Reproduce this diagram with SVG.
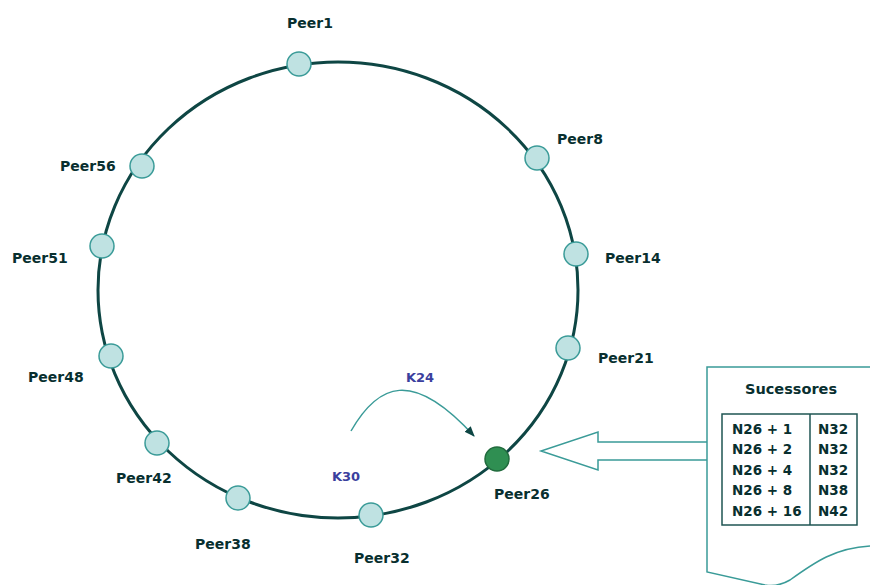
<svg xmlns="http://www.w3.org/2000/svg" width="870" height="585" viewBox="0 0 870 585">
  <style>
    .lbl { font-family: "DejaVu Sans", Verdana, sans-serif; font-weight: bold; font-size: 14px; fill: #082f2f; }
    .key { font-family: "DejaVu Sans", Verdana, sans-serif; font-weight: bold; font-size: 13px; fill: #3b3f9e; }
    .cell { font-family: "DejaVu Sans", Verdana, sans-serif; font-weight: bold; font-size: 13.5px; fill: #082f2f; }
    .peer { fill: #bfe2e2; stroke: #3a9b98; stroke-width: 1.5; }
    .peer.active { fill: #2f8f52; stroke: #216b3d; }
    .ring { fill: none; stroke: #0e4644; stroke-width: 3; }
    .thin { fill: none; stroke: #3a9b98; stroke-width: 1.5; }
    .grid { fill: none; stroke: #1f5553; stroke-width: 1.5; }
  </style>
  <defs>
    <marker id="head" viewBox="0 0 10 10" refX="9" refY="5" markerWidth="7" markerHeight="7" orient="auto">
      <path d="M0,1 L10,5 L0,9 z" fill="#0e4644"/>
    </marker>
  </defs>
  <rect width="870" height="585" fill="#ffffff"/>

  <!-- identifier ring -->
  <ellipse class="ring" cx="338" cy="290" rx="240" ry="228"/>

  <g id="connectors">
    <path d="M351,431 C378,384 412,368 474,436" class="thin" stroke="#2f8f8c" marker-end="url(#head)"/>
    <path d="M707,442 H598 V432 L541,451 L598,470 V460 H707" class="thin"/>
  </g>

  <g id="peer1"><circle class="peer" cx="299" cy="64" r="12"/><text class="lbl" x="287" y="28">Peer1</text></g>
  <g id="peer8"><circle class="peer" cx="537" cy="158" r="12"/><text class="lbl" x="557" y="144">Peer8</text></g>
  <g id="peer14"><circle class="peer" cx="576" cy="254" r="12"/><text class="lbl" x="605" y="263">Peer14</text></g>
  <g id="peer21"><circle class="peer" cx="568" cy="348" r="12"/><text class="lbl" x="598" y="363">Peer21</text></g>
  <g id="peer26"><circle class="peer active" cx="497" cy="459" r="12"/><text class="lbl" x="494" y="499">Peer26</text></g>
  <g id="peer32"><circle class="peer" cx="371" cy="515" r="12"/><text class="lbl" x="354" y="563">Peer32</text></g>
  <g id="peer38"><circle class="peer" cx="238" cy="498" r="12"/><text class="lbl" x="195" y="549">Peer38</text></g>
  <g id="peer42"><circle class="peer" cx="157" cy="443" r="12"/><text class="lbl" x="116" y="483">Peer42</text></g>
  <g id="peer48"><circle class="peer" cx="111" cy="356" r="12"/><text class="lbl" x="28" y="382">Peer48</text></g>
  <g id="peer51"><circle class="peer" cx="102" cy="246" r="12"/><text class="lbl" x="12" y="263">Peer51</text></g>
  <g id="peer56"><circle class="peer" cx="142" cy="166" r="12"/><text class="lbl" x="60" y="171">Peer56</text></g>

  <g id="keys">
    <text class="key" x="406" y="382">K24</text>
    <text class="key" x="332" y="481">K30</text>
  </g>

  <!-- finger table of Peer26 -->
  <g id="finger-table">
    <path class="thin" d="M870,367 H707 V572 L765,585 C775,587 783,584 790,580 C815,562 835,548 870,546"/>
    <text class="lbl" x="745" y="394" style="font-size:14.5px">Sucessores</text>
    <rect class="grid" x="722" y="414" width="135" height="111"/>
    <line class="grid" x1="810" y1="414" x2="810" y2="525"/>
    <text class="cell" x="732" y="434">N26 +  1</text>
    <text class="cell" x="732" y="454">N26 +  2</text>
    <text class="cell" x="732" y="475">N26 +  4</text>
    <text class="cell" x="732" y="495">N26 +  8</text>
    <text class="cell" x="732" y="516">N26 + 16</text>
    <text class="cell" x="818" y="434">N32</text>
    <text class="cell" x="818" y="454">N32</text>
    <text class="cell" x="818" y="475">N32</text>
    <text class="cell" x="818" y="495">N38</text>
    <text class="cell" x="818" y="516">N42</text>
  </g>
</svg>
